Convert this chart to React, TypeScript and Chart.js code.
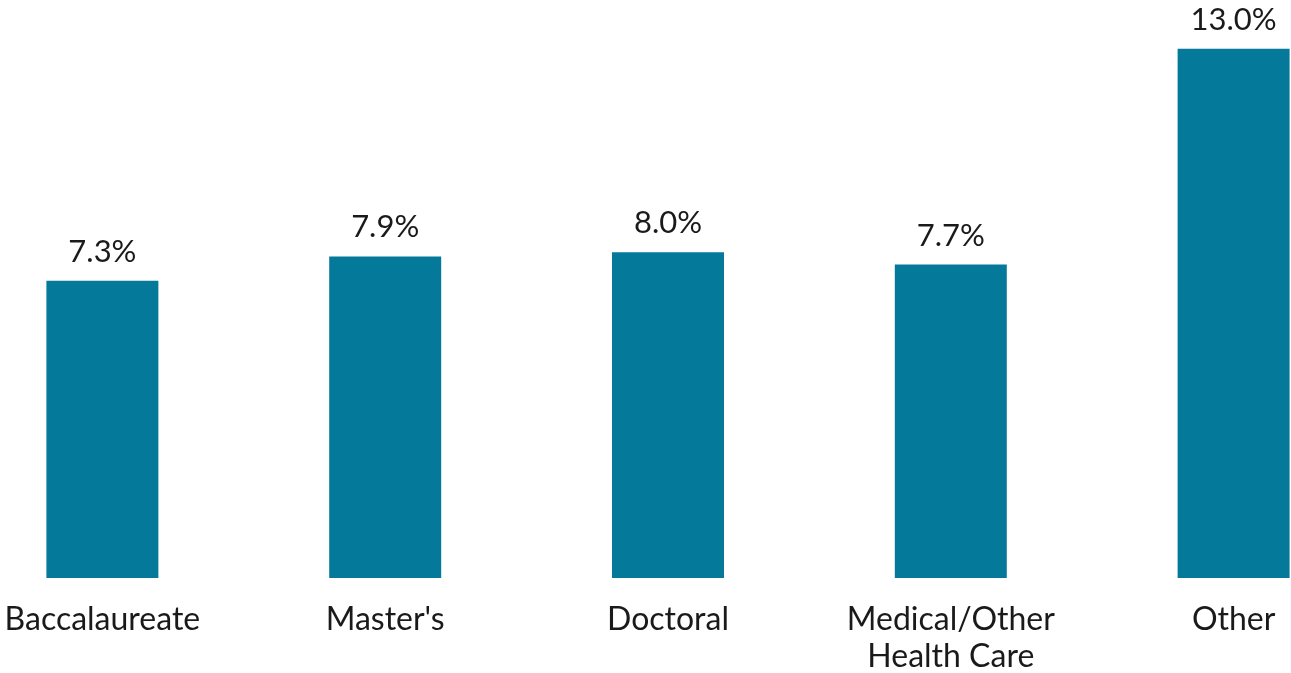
import React, { useEffect, useRef } from "react";
import { Chart, registerables } from "chart.js";

Chart.register(...registerables);

const categories: (string | string[])[] = [
  "Baccalaureate",
  "Master's",
  "Doctoral",
  ["Medical/Other", "Health Care"],
  "Other",
];
const values: number[] = [7.3, 7.9, 8.0, 7.7, 13.0];

const BAR_COLOR = "#04799A";
const TEXT_COLOR = "#1a1a1a";
const FONT = "Lato";

const valueLabels = {
  id: "valueLabels",
  afterDatasetsDraw(chart: any) {
    const ctx = chart.ctx;
    const meta = chart.getDatasetMeta(0);
    ctx.save();
    ctx.fillStyle = TEXT_COLOR;
    ctx.font = `31px ${FONT}`;
    ctx.textAlign = "center";
    ctx.textBaseline = "alphabetic";
    meta.data.forEach((bar: any, i: number) => {
      ctx.fillText(values[i].toFixed(1) + "%", bar.x, bar.y - 19);
    });
    ctx.restore();
  },
};

export default function App() {
  const ref = useRef<HTMLCanvasElement>(null);
  useEffect(() => {
    if (!ref.current) return;
    const chart = new Chart(ref.current, {
      type: "bar",
      data: {
        labels: categories,
        datasets: [
          {
            data: values,
            backgroundColor: BAR_COLOR,
            borderWidth: 0,
            categoryPercentage: 1,
            barPercentage: 0.396,
          },
        ],
      },
      options: {
        animation: false,
        responsive: false,
        devicePixelRatio: 1,
        layout: { padding: { top: 6, left: 0, right: 0, bottom: 0 } },
        plugins: {
          legend: { display: false },
          tooltip: { enabled: false },
        },
        scales: {
          x: {
            offset: true,
            grid: { display: false, drawTicks: false },
            border: { display: false },
            ticks: {
              color: TEXT_COLOR,
              font: { family: FONT, size: 32, lineHeight: "37px" },
              padding: 23,
              maxRotation: 0,
              autoSkip: false,
            },
            afterFit: (scale: any) => {
              scale.height = 95;
            },
          },
          y: {
            display: false,
            min: 0,
            max: 14.05,
          },
        },
      },
      plugins: [valueLabels],
    });
    return () => chart.destroy();
  }, []);
  return (
    <div
      style={{
        position: "fixed",
        left: 0,
        top: 0,
        width: 1291,
        height: 673,
        overflow: "hidden",
        background: "#fff",
      }}
    >
      <canvas
        ref={ref}
        width={1414}
        height={673}
        style={{ position: "absolute", left: -39, top: 0, width: 1414, height: 673 }}
      />
    </div>
  );
}
